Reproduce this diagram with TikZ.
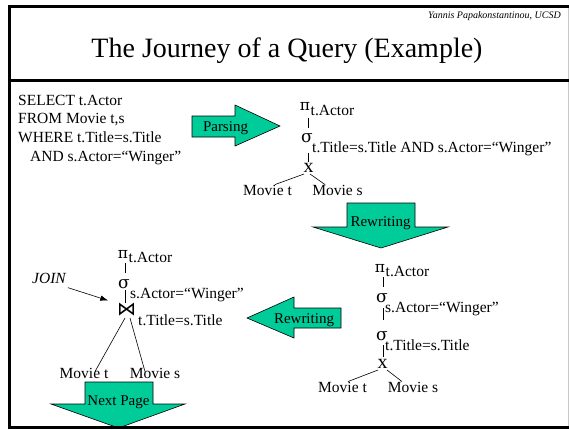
\documentclass[tikz,border=0pt]{standalone}
\usepackage{fontspec}
\setmainfont{Liberation Serif}
\newfontfamily\symfont{DejaVu Sans}
\newfontfamily\greekfont{DejaVu Serif}
\usetikzlibrary{calc,arrows.meta}
\definecolor{arrowfill}{RGB}{0,204,153}
\definecolor{edgegray}{RGB}{200,200,200}
\begin{document}
\begin{tikzpicture}[x=1pt,y=-1pt,
  txt/.style={inner sep=0pt, font=\fontsize{15.5}{18}\selectfont},
  op/.style={inner sep=0pt, anchor=base, font=\fontsize{20}{20}\selectfont},
  gop/.style={inner sep=0pt, anchor=base, font=\fontsize{17}{17}\selectfont\greekfont},
  piop/.style={inner sep=0pt, anchor=base, font=\fontsize{15.5}{16}\selectfont\greekfont},
  sub/.style={inner sep=0pt, anchor=base west, font=\fontsize{15.5}{16}\selectfont},
  blockarrow/.style={fill=arrowfill, draw=black, line width=0.6pt, line join=miter},
  arrowlabel/.style={inner sep=0pt, anchor=base, font=\fontsize{15}{15}\selectfont},
  edge/.style={line width=0.6pt},
  frame/.style={line width=3pt}]
\useasboundingbox (0,0) rectangle (569,429);
\fill[white] (0,0) rectangle (569,429);

% header
\node[inner sep=0pt, anchor=base east, font=\fontsize{10}{10}\selectfont\itshape] (author) at (561,18) {Yannis Papakonstantinou, UCSD};
\node[inner sep=0pt, anchor=base, font=\fontsize{28}{30}\selectfont] (title) at (287,57) {The Journey of a Query (Example)};

% SQL query
\node[txt, anchor=base west] (sql1) at (18,105) {SELECT t.Actor};
\node[txt, anchor=base west] (sql2) at (18,123.7) {FROM Movie t,s};
\node[txt, anchor=base west] (sql3) at (18,142.4) {WHERE t.Title=s.Title};
\node[txt, anchor=base west] (sql4) at (30,161) {AND s.Actor=“Winger”};

% block arrows
\draw[blockarrow] (192,116) -- (235,116) -- (235,105) -- (280,126) -- (235,146) -- (235,137) -- (192,137) -- cycle;
\node[arrowlabel] (parse) at (225.5,131) {Parsing};

\draw[blockarrow] (347,203) -- (415,203) -- (415,227) -- (448,227) -- (381,248) -- (313,227) -- (347,227) -- cycle;
\node[arrowlabel] (rewrite1) at (380.5,226.5) {Rewriting};

\draw[blockarrow] (341,308) -- (341,328) -- (294,328) -- (294,338) -- (247,318) -- (294,297) -- (294,308) -- cycle;
\node[arrowlabel] (rewrite2) at (304,323.5) {Rewriting};

\draw[blockarrow] (85,382) -- (153,382) -- (153,404) -- (185,404) -- (118.5,428) -- (51,404) -- (85,404) -- cycle;
\node[arrowlabel] (nextpage) at (118.5,405) {Next Page};

% parsed plan
\node[piop] (pi1) at (305,110) {π};
\node[sub] (pi1l) at (310.5,115) {t.Actor};
\node[gop] (sg1) at (307,142) {σ};
\node[sub] (sg1l) at (312,152) {t.Title=s.Title AND s.Actor=“Winger”};
\node[op] (x1) at (308.5,172) {x};
\node[txt, anchor=base] (mt1) at (267.5,195) {Movie t};
\node[txt, anchor=base] (ms1) at (337.5,195) {Movie s};
\draw[edge] ($(pi1.base)+(3,8)$) -- ($(sg1.base)+(1,-14)$);
\draw[edge] ($(sg1.base)+(1,11)$) -- ($(x1.base)+(-0.5,-10)$);
\draw[edge] ($(x1.base)+(-4.5,2)$) -- ($(mt1.north)+(7.5,0)$);
\draw[edge] ($(x1.base)+(1.5,2)$) -- ($(ms1.north)+(-12.5,0)$);

% rewritten plan
\node[piop] (pi2) at (380,272) {π};
\node[sub] (pi2l) at (385.5,276) {t.Actor};
\node[gop] (sg2) at (382,302) {σ};
\node[sub] (sg2l) at (385,312) {s.Actor=“Winger”};
\node[gop] (sg3) at (382,340) {σ};
\node[sub] (sg3l) at (385,350) {t.Title=s.Title};
\node[op] (x2) at (382.5,368) {x};
\node[txt, anchor=base] (mt2) at (342.5,392) {Movie t};
\node[txt, anchor=base] (ms2) at (413,392) {Movie s};
\draw[edge] ($(pi2.base)+(3,5)$) -- ($(sg2.base)+(1,-15)$);
\draw[edge] ($(sg2.base)+(1,6)$) -- ($(sg3.base)+(1,-20)$);
\draw[edge] ($(sg3.base)+(1,5)$) -- ($(x2.base)+(0.5,-11)$);
\draw[edge] ($(x2.base)+(-4.5,2)$) -- ($(mt2.north)+(5.5,0)$);
\draw[edge] ($(x2.base)+(4.5,2)$) -- ($(ms2.north)+(-11,0)$);

% plan with join
\node[piop] (pi3) at (123,258) {π};
\node[sub] (pi3l) at (128.5,262) {t.Actor};
\node[gop] (sg4) at (124,288) {σ};
\node[sub] (sg4l) at (130,298) {s.Actor=“Winger”};
\node[inner sep=0pt, font=\fontsize{19}{19}\selectfont\symfont] (bt) at (126.5,310) {⋈};
\node[sub] (btl) at (138,325) {t.Title=s.Title};
\node[txt, anchor=base] (mt3) at (84,378) {Movie t};
\node[txt, anchor=base] (ms3) at (155,378) {Movie s};
\draw[edge] ($(pi3.base)+(2,5)$) -- ($(sg4.base)+(1,-15)$);
\draw[edge] ($(sg4.base)+(1,2)$) -- ($(bt.center)+(-1.5,-7)$);
\draw[edge] ($(bt.center)+(-1.5,8)$) -- ($(mt3.north)+(11,4)$);
\draw[edge] ($(bt.center)+(3.5,8)$) -- ($(ms3.north)+(-10,4)$);

\node[inner sep=0pt, anchor=base west, font=\fontsize{15.5}{16}\selectfont\itshape] (join) at (32,283) {JOIN};
\draw[edge, -{Latex[length=8pt,width=5.5pt]}, shorten <=1pt, shorten >=9pt] ($(join.south east)+(1,4)$) -- (bt.north west);

% slide frame
\draw[edgegray, line width=1pt] (568,5) -- (568,429);
\draw[frame] (9.5,429) -- (9.5,6.5) -- (569,6.5);
\draw[frame] (8,80.5) -- (569,80.5);
\draw[frame] (8,427.5) -- (569,427.5);
\end{tikzpicture}
\end{document}
